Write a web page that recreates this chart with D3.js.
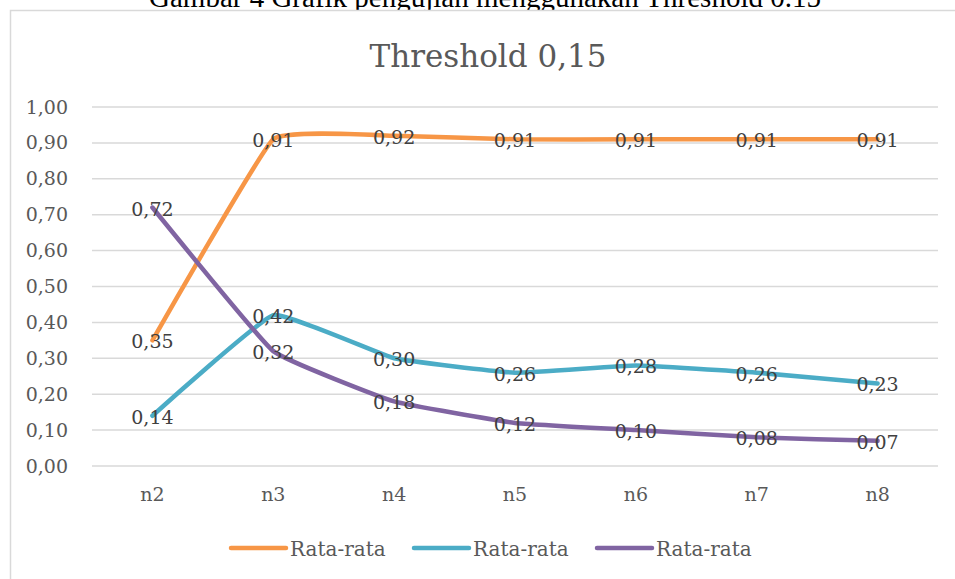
<!DOCTYPE html>
<html>
<head>
<meta charset="utf-8">
<script src="https://cdn.jsdelivr.net/npm/d3@7"></script>
<style>
  body { margin: 0; background: white; }
</style>
</head>
<body>
<div id="chart"></div>
<script>
// data
const categories = ["n2", "n3", "n4", "n5", "n6", "n7", "n8"];
const seriesNames = ["Rata-rata", "Rata-rata", "Rata-rata"];
const orangeVals = [0.35, 0.91, 0.92, 0.91, 0.91, 0.91, 0.91];
const tealVals = [0.14, 0.42, 0.30, 0.26, 0.28, 0.26, 0.23];
const purpleVals = [0.72, 0.32, 0.18, 0.12, 0.10, 0.08, 0.07];
const yTicks = [0, 0.1, 0.2, 0.3, 0.4, 0.5, 0.6, 0.7, 0.8, 0.9, 1.0];
const colors = ["#F79646", "#4BACC6", "#8064A2"];

const width = 955;
const height = 579;
const margin = {t: 107, b: 113, l: 92, r: 17};
const fmt = v => d3.format(".2f")(v).replace(".", ",");
const chartFont = "'DejaVu Serif', serif";

const svg = d3.select("#chart")
    .append("svg")
    .attr("width", width)
    .attr("height", height)
    .attr("viewBox", [0, 0, width, height])
    .style("background-color", "white");

// caption above the chart (cut off at top in the source too)
svg.append("text")
    .attr("x", 485)
    .attr("y", 7)
    .attr("text-anchor", "middle")
    .attr("font-family", "'Liberation Serif', serif")
    .attr("font-size", "29px")
    .attr("fill", "#000")
    .text("Gambar 4 Grafik pengujian menggunakan Threshold 0.15");

// chart frame
svg.append("rect")
    .attr("x", 10.5)
    .attr("y", 10.5)
    .attr("width", 960)
    .attr("height", 600)
    .attr("fill", "white")
    .attr("stroke", "#d9d9d9")
    .attr("stroke-width", 1.5);

svg.append("text")
    .attr("x", 488)
    .attr("y", 67)
    .attr("text-anchor", "middle")
    .attr("font-family", chartFont)
    .attr("font-size", "31px")
    .attr("fill", "#595959")
    .text("Threshold 0,15");

const x = d3.scaleBand()
    .domain(categories)
    .range([margin.l, width - margin.r]);

const y = d3.scaleLinear()
    .domain([0, 1])
    .range([height - margin.b, margin.t]);

// gridlines
svg.append("g")
    .selectAll("line")
    .data(yTicks)
    .join("line")
    .attr("x1", margin.l)
    .attr("x2", width - margin.r)
    .attr("y1", d => y(d))
    .attr("y2", d => y(d))
    .attr("stroke", "#d9d9d9")
    .attr("stroke-width", 1.5);

// y axis labels
const yAxis = d3.axisLeft(y).tickValues(yTicks).tickFormat(fmt).tickSize(0).tickPadding(24);
svg.append("g")
    .attr("transform", `translate(${margin.l},0)`)
    .call(yAxis)
    .call(g => g.select(".domain").remove())
    .call(g => g.selectAll("text")
        .attr("font-family", chartFont)
        .attr("font-size", "19px")
        .attr("fill", "#595959"));

// x axis labels
const xAxis = d3.axisBottom(x).tickSize(0).tickPadding(22);
svg.append("g")
    .attr("transform", `translate(0,${height - margin.b})`)
    .call(xAxis)
    .call(g => g.select(".domain").remove())
    .call(g => g.selectAll("text")
        .attr("font-family", chartFont)
        .attr("font-size", "19px")
        .attr("fill", "#595959"));

const allSeries = [orangeVals, tealVals, purpleVals];

// excel-like light smoothing
const line = d3.line()
    .x((d, i) => x(categories[i]) + x.bandwidth() / 2)
    .y(d => y(d))
    .curve(d3.curveCardinal.tension(0.7));

svg.append("g")
    .selectAll("path")
    .data(allSeries)
    .join("path")
    .attr("d", line)
    .attr("fill", "none")
    .attr("stroke", (d, i) => colors[i])
    .attr("stroke-width", 4.5)
    .attr("stroke-linecap", "round")
    .attr("stroke-linejoin", "round");

// data labels, centered on points
allSeries.forEach(vals => {
    svg.append("g")
        .selectAll("text")
        .data(vals)
        .join("text")
        .attr("x", (d, i) => x(categories[i]) + x.bandwidth() / 2)
        .attr("y", d => y(d) + 8)
        .attr("text-anchor", "middle")
        .attr("font-family", chartFont)
        .attr("font-size", "19px")
        .attr("fill", "#404040")
        .text(fmt);
});

// legend
const legendX = [231, 414, 597];
const legend = svg.append("g")
    .selectAll("g")
    .data(seriesNames)
    .join("g")
    .attr("transform", (d, i) => `translate(${legendX[i]},548)`);

legend.append("line")
    .attr("x1", 0)
    .attr("x2", 55)
    .attr("stroke", (d, i) => colors[i])
    .attr("stroke-width", 4.5)
    .attr("stroke-linecap", "round");

legend.append("text")
    .attr("x", 59)
    .attr("y", 8)
    .attr("font-family", chartFont)
    .attr("font-size", "20px")
    .attr("fill", "#595959")
    .text(d => d);
</script>
</body>
</html>
